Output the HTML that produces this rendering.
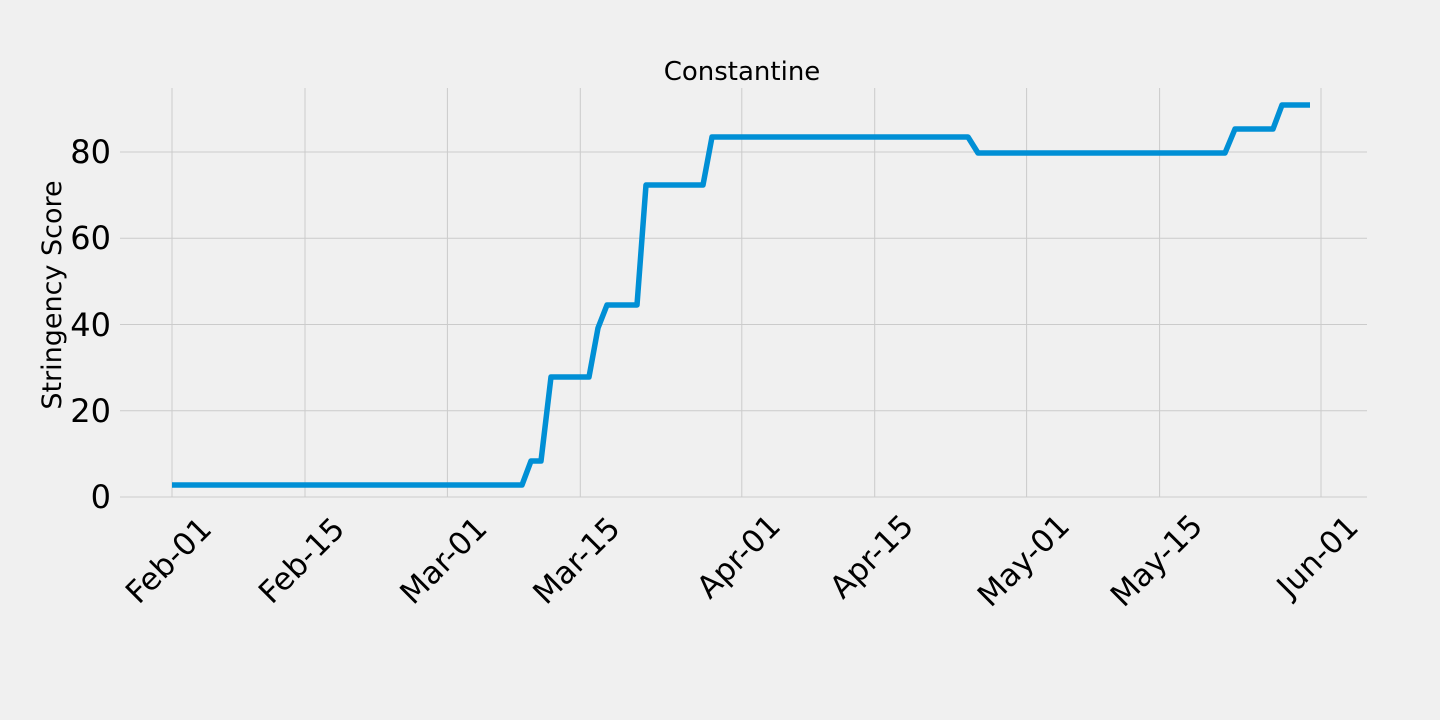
<!DOCTYPE html>
<html><head><meta charset="utf-8"><style>
html,body{margin:0;padding:0;background:#f0f0f0;}
svg{display:block;}
text{font-family:"DejaVu Sans","Liberation Sans",sans-serif;fill:#000;}
</style></head><body>
<svg width="1440" height="720" viewBox="0 0 1440 720">
<rect width="1440" height="720" fill="#f0f0f0"/>
<g stroke="#cbcbcb" stroke-width="1">
<line x1="120" x2="1367" y1="497" y2="497"/>
<line x1="120" x2="1367" y1="410.75" y2="410.75"/>
<line x1="120" x2="1367" y1="324.5" y2="324.5"/>
<line x1="120" x2="1367" y1="238.25" y2="238.25"/>
<line x1="120" x2="1367" y1="152" y2="152"/>
<line x1="172" x2="172" y1="88" y2="497"/>
<line x1="305" x2="305" y1="88" y2="497"/>
<line x1="447.4" x2="447.4" y1="88" y2="497"/>
<line x1="580.3" x2="580.3" y1="88" y2="497"/>
<line x1="741.8" x2="741.8" y1="88" y2="497"/>
<line x1="874.7" x2="874.7" y1="88" y2="497"/>
<line x1="1026.6" x2="1026.6" y1="88" y2="497"/>
<line x1="1159.6" x2="1159.6" y1="88" y2="497"/>
<line x1="1321" x2="1321" y1="88" y2="497"/>
</g>
<polyline fill="none" stroke="#008fd5" stroke-width="5.5" stroke-linejoin="round" points="172,485 522,485 531,461 541,461 551,377 589,377 598,328 607,305 637,305 646,185 703,185 712,137 968,137 978,153 1225,153 1235,129 1273,129 1282,105 1310,105"/>
<text x="742" y="80" font-size="26" text-anchor="middle">Constantine</text>
<text transform="translate(61,295) rotate(-90)" font-size="27" text-anchor="middle">Stringency Score</text>
<g font-size="32" text-anchor="end">
<text x="111" y="508">0</text>
<text x="111" y="422">20</text>
<text x="111" y="336">40</text>
<text x="111" y="249">60</text>
<text x="111" y="163">80</text>
</g>
<g font-size="31" text-anchor="middle">
<text transform="translate(176,568) rotate(-45)">Feb-01</text>
<text transform="translate(309,568) rotate(-45)">Feb-15</text>
<text transform="translate(451,568) rotate(-45)">Mar-01</text>
<text transform="translate(584,568) rotate(-45)">Mar-15</text>
<text transform="translate(746,564) rotate(-45)">Apr-01</text>
<text transform="translate(879,564) rotate(-45)">Apr-15</text>
<text transform="translate(1031,568) rotate(-45)">May-01</text>
<text transform="translate(1164,568) rotate(-45)">May-15</text>
<text transform="translate(1325,564) rotate(-45)">Jun-01</text>
</g>
</svg>
</body></html>
